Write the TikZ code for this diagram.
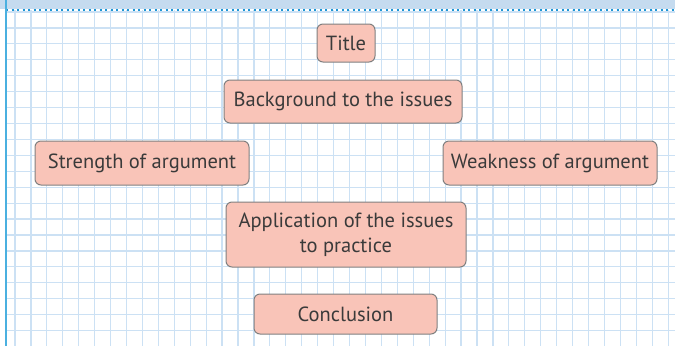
\documentclass[tikz,border=0pt]{standalone}
\usepackage{fontspec}
\setmainfont{PT Sans}
\usepackage{tikz}

\definecolor{gridblue}{HTML}{CCE1F4}
\definecolor{bandblue}{HTML}{C5DBEF}
\definecolor{dotblue}{HTML}{1E96D6}
\definecolor{marginblue}{HTML}{4AB0E0}
\definecolor{boxfill}{HTML}{F9C4B8}
\definecolor{boxline}{HTML}{808080}
\definecolor{boxtext}{HTML}{3A3A3A}

\tikzset{
	topic/.style={draw=boxline,fill=boxfill,line width=1pt,rounded corners=6pt,
		text=boxtext,font=\fontsize{20.5}{25}\selectfont,align=center,inner sep=0pt},
}

\begin{document}
\begin{tikzpicture}[x=1pt,y=-1pt]
	\useasboundingbox (0,0) rectangle (675,346);
	% squared paper
	\fill[white] (0,0) rectangle (675,346);
	\foreach \k in {0,...,41} {
		\draw[gridblue,line width=1.2pt] ({15+15.93*\k},10) -- ({15+15.93*\k},346);
	}
	\foreach \k in {0,...,20} {
		\draw[gridblue,line width=1.2pt] (6,{12+15.93*\k}) -- (675,{12+15.93*\k});
	}
	\fill[bandblue] (0,0) rectangle (675,9);
	\draw[dotblue,line width=2pt,dash pattern=on 2pt off 3.5pt] (6,10) -- (675,10);
	\draw[marginblue,line width=1.6pt] (6,0) -- (6,346);

	% topics
	\draw (346,43) node (title) [topic,minimum width=58pt,minimum height=38pt] {Title};
	\draw (343,101.5) node (bg) [topic,minimum width=238pt,minimum height=43pt] {Background to the issues};
	\draw (142,163) node (strength) [topic,minimum width=214pt,minimum height=44pt] {Strength of argument};
	\draw (550,163) node (weakness) [topic,minimum width=214pt,minimum height=44pt] {Weakness of argument};
	\draw (346,234.5) node (appl) [topic,minimum width=240pt,minimum height=65pt] {Application of the issues\\to practice};
	\draw (345.5,314) node (concl) [topic,minimum width=183pt,minimum height=40pt] {Conclusion};
\end{tikzpicture}
\end{document}
